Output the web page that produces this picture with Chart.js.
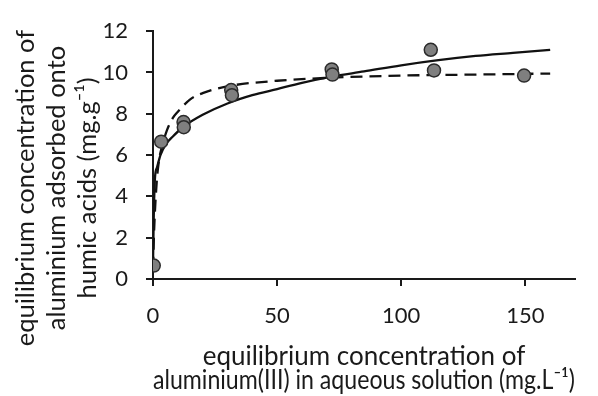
<!DOCTYPE html>
<html>
<head>
<meta charset="utf-8">
<script src="https://cdn.jsdelivr.net/npm/chart.js@4.4.0/dist/chart.umd.min.js"></script>
<style>
  html, body { margin: 0; padding: 0; background: #fff; }
  #wrap { width: 598px; height: 396px; }
</style>
</head>
<body>
<div id="wrap"><canvas id="isotherm"></canvas></div>
<script>
// measured points (equilibrium conc. vs adsorbed amount)
var obsX = [0.3, 3.3, 12.3, 12.4, 31.5, 31.8, 72.0, 72.3, 111.9, 113.2, 149.5];
var obsY = [0.65, 6.65, 7.6, 7.35, 9.15, 8.9, 10.15, 9.9, 11.1, 10.1, 9.85];

// solid fitted curve
var solidX = [0, 0.3, 0.8, 1.6, 3, 5, 8, 12, 20, 30, 40, 50, 60, 72, 85, 100, 115, 130, 145, 160];
var solidY = [0.7, 3.0, 4.9, 5.4, 6.0, 6.5, 6.9, 7.35, 7.95, 8.5, 8.9, 9.2, 9.5, 9.8, 10.05, 10.35, 10.6, 10.8, 10.95, 11.1];

// dashed fitted curve
var dashX = [0, 0.5, 1.5, 2.5, 3.6, 5.6, 8, 10, 15, 20, 31, 50, 72, 100, 130, 160];
var dashY = [0.5, 2.5, 4.7, 5.8, 6.4, 7.2, 7.8, 8.1, 8.7, 9.0, 9.35, 9.6, 9.75, 9.85, 9.9, 9.95];

var xTitle = ['equilibrium concentration of', 'aluminium(III) in aqueous solution (mg.L\u207B\u00B9)'];
var yTitle = ['equilibrium concentration of', 'aluminium adsorbed onto', 'humic acids (mg.g\u207B\u00B9)'];

function pairs(xs, ys) {
  return xs.map(function (x, i) { return { x: x, y: ys[i] }; });
}

var FONT = 'Lato';
var INK = '#1a1a1a';

// y axis title, three centred lines rotated
var yTitlePlugin = {
  id: 'yTitle',
  afterDraw: function (chart) {
    var ctx = chart.ctx;
    var lineX = [34, 65, 96];
    ctx.save();
    ctx.font = '25.5px ' + FONT;
    ctx.fillStyle = INK;
    ctx.textAlign = 'center';
    ctx.textBaseline = 'alphabetic';
    yTitle.forEach(function (t, i) {
      ctx.save();
      ctx.translate(lineX[i], 188);
      ctx.rotate(-Math.PI / 2);
      ctx.fillText(t, 0, 0);
      ctx.restore();
    });
    ctx.restore();
  }
};

var ctx = document.getElementById('isotherm');
new Chart(ctx, {
  type: 'scatter',
  data: {
    datasets: [{
      label: 'experimental',
      data: pairs(obsX, obsY),
      pointRadius: 6.5,
      pointBackgroundColor: '#7f7f7f',
      pointBorderColor: '#2b2b2b',
      pointBorderWidth: 1.5,
      order: 0
    }, {
      label: 'solid fit',
      data: pairs(solidX, solidY),
      showLine: true,
      pointRadius: 0,
      borderColor: '#111',
      borderWidth: 2.3,
      cubicInterpolationMode: 'monotone',
      order: 1
    }, {
      label: 'dashed fit',
      data: pairs(dashX, dashY),
      showLine: true,
      pointRadius: 0,
      borderColor: '#111',
      borderWidth: 2.3,
      borderDash: [12, 7],
      cubicInterpolationMode: 'monotone',
      order: 2
    }]
  },
  options: {
    responsive: true,
    maintainAspectRatio: false,
    animation: false,
    layout: { padding: { top: 24, right: 23, left: 0, bottom: 0 } },
    plugins: {
      legend: { display: false },
      tooltip: { enabled: false }
    },
    scales: {
      x: {
        type: 'linear',
        min: 0,
        max: 170,
        afterFit: function (s) { s.height = 117; },
        border: { display: true, color: INK, width: 2 },
        grid: { display: true, drawOnChartArea: false, drawTicks: true, tickLength: 7, color: INK, lineWidth: 2 },
        ticks: { stepSize: 50, includeBounds: false, padding: 17, color: INK, font: { family: FONT, size: 22 } },
        title: { display: true, text: xTitle, color: INK, font: { family: FONT, size: 26, lineHeight: 0.93 }, padding: { top: 0, bottom: 3.5 } }
      },
      y: {
        type: 'linear',
        min: 0,
        max: 12,
        afterFit: function (s) { s.width = 153; },
        border: { display: true, color: INK, width: 2 },
        grid: { display: true, drawOnChartArea: false, drawTicks: true, tickLength: 7, color: INK, lineWidth: 2 },
        ticks: { stepSize: 2, padding: 18, color: INK, font: { family: FONT, size: 22 } }
      }
    }
  },
  plugins: [yTitlePlugin]
});
</script>
</body>
</html>
